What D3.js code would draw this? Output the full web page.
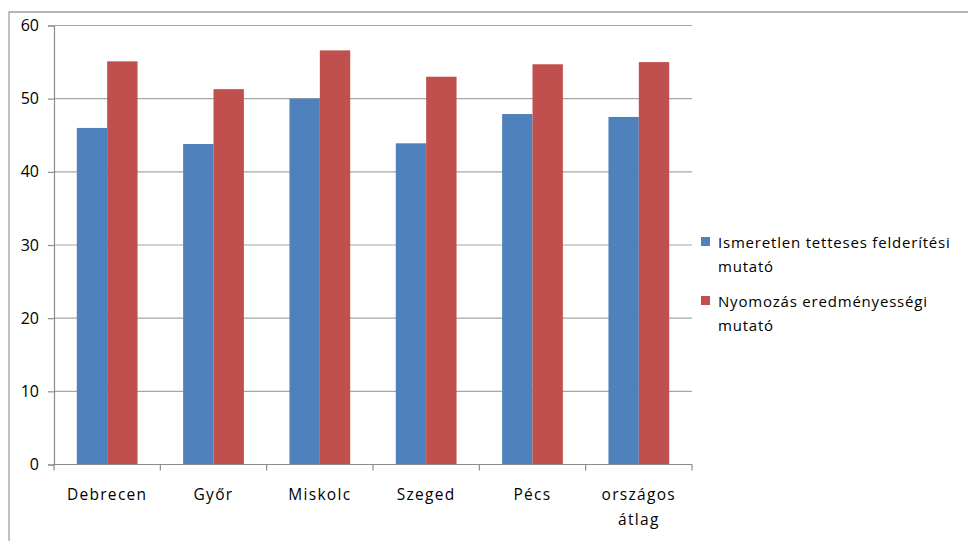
<!DOCTYPE html>
<html><head><meta charset="utf-8">
<script src="https://cdn.jsdelivr.net/npm/d3@7"></script>
<style>body{margin:0;background:#fff;} svg{display:block;font-family:"Open Sans",sans-serif;}</style>
</head><body>
<svg id="c" width="968" height="541"></svg>
<script>
const categories = ["Debrecen", "Győr", "Miskolc", "Szeged", "Pécs", "országos|átlag"];
const seriesNames = ["Ismeretlen tetteses felderítési|mutató", "Nyomozás eredményességi|mutató"];
const series1 = [46.0, 43.8, 50.0, 43.9, 47.9, 47.5];
const series2 = [55.1, 51.3, 56.6, 53.0, 54.7, 55.0];
const yTicks = [0, 10, 20, 30, 40, 50, 60];
const colors = ["#4F81BD", "#C0504D"];

const svg = d3.select("#c");
const L = 54, R = 692, T = 25.5, B = 464.5;

// outer frame
svg.append("path").attr("d", "M9,541 L9,12 L968,12").attr("fill","none").attr("stroke","#a0a0a0").attr("stroke-width",1.3);

const x = d3.scaleBand().domain(categories).range([L, R]).paddingInner(0).paddingOuter(0);
const y = d3.scaleLinear().domain([0, 60]).range([B, T]);
const bw = x.bandwidth() / 3.5;

// gridlines
svg.append("g").selectAll("line").data(yTicks.filter(d => d > 0)).join("line")
  .attr("x1", L).attr("x2", R).attr("y1", d => y(d)).attr("y2", d => y(d))
  .attr("stroke", "#a6a6a6").attr("stroke-width", 1.2);

// bars
const data = categories.map((c, i) => ({c, v: [series1[i], series2[i]]}));
const g = svg.append("g");
data.forEach(d => {
  d.v.forEach((v, j) => {
    g.append("rect")
      .attr("x", x(d.c) + x.bandwidth()/2 - bw + j*bw)
      .attr("y", y(v)).attr("width", bw).attr("height", y(0) - y(v))
      .attr("fill", colors[j]);
  });
});

// y axis
const ya = d3.axisLeft(y).tickValues(yTicks).tickSize(6).tickPadding(9);
const yg = svg.append("g").attr("transform", `translate(${L},0)`).call(ya);
yg.select(".domain").attr("stroke", "#8c8c8c").attr("stroke-width", 1.2);
yg.selectAll(".tick line").attr("stroke", "#8c8c8c").attr("stroke-width", 1.2);
yg.selectAll(".tick text").attr("font-size", 16).attr("fill", "#000").attr("font-family", "Open Sans");

// x axis
const xa = d3.axisBottom(x).tickSize(0).tickFormat("");
const xg = svg.append("g").attr("transform", `translate(0,${B})`).call(xa);
xg.select(".domain").attr("stroke", "#8c8c8c").attr("stroke-width", 1.2).attr("d", `M${L},0H${R}`);
xg.selectAll(".tick").remove();
const bounds = categories.map(c => x(c)).concat([R]);
xg.selectAll("line.b").data(bounds).join("line").attr("class","b")
  .attr("x1", d => d).attr("x2", d => d).attr("y1", 0).attr("y2", 6)
  .attr("stroke", "#8c8c8c").attr("stroke-width", 1.2);
categories.forEach(c => {
  const lines = c.split("|");
  const t = svg.append("text").attr("text-anchor", "middle").attr("font-size", 15.5)
    .attr("letter-spacing", 1.3).attr("fill", "#000");
  lines.forEach((ln, k) => {
    t.append("tspan").attr("x", x(c) + x.bandwidth()/2).attr("y", 500 + k*25).text(ln);
  });
});

// legend
const legY = [243, 302];
seriesNames.forEach((n, j) => {
  svg.append("rect").attr("x", 701).attr("y", legY[j] - 6).attr("width", 9).attr("height", 9).attr("fill", colors[j]);
  const t = svg.append("text").attr("font-size", 15).attr("letter-spacing", 0.8).attr("fill", "#000");
  n.split("|").forEach((ln, k) => {
    t.append("tspan").attr("x", 718).attr("y", legY[j] + 5 + k*24).text(ln);
  });
});
</script>
</body></html>
